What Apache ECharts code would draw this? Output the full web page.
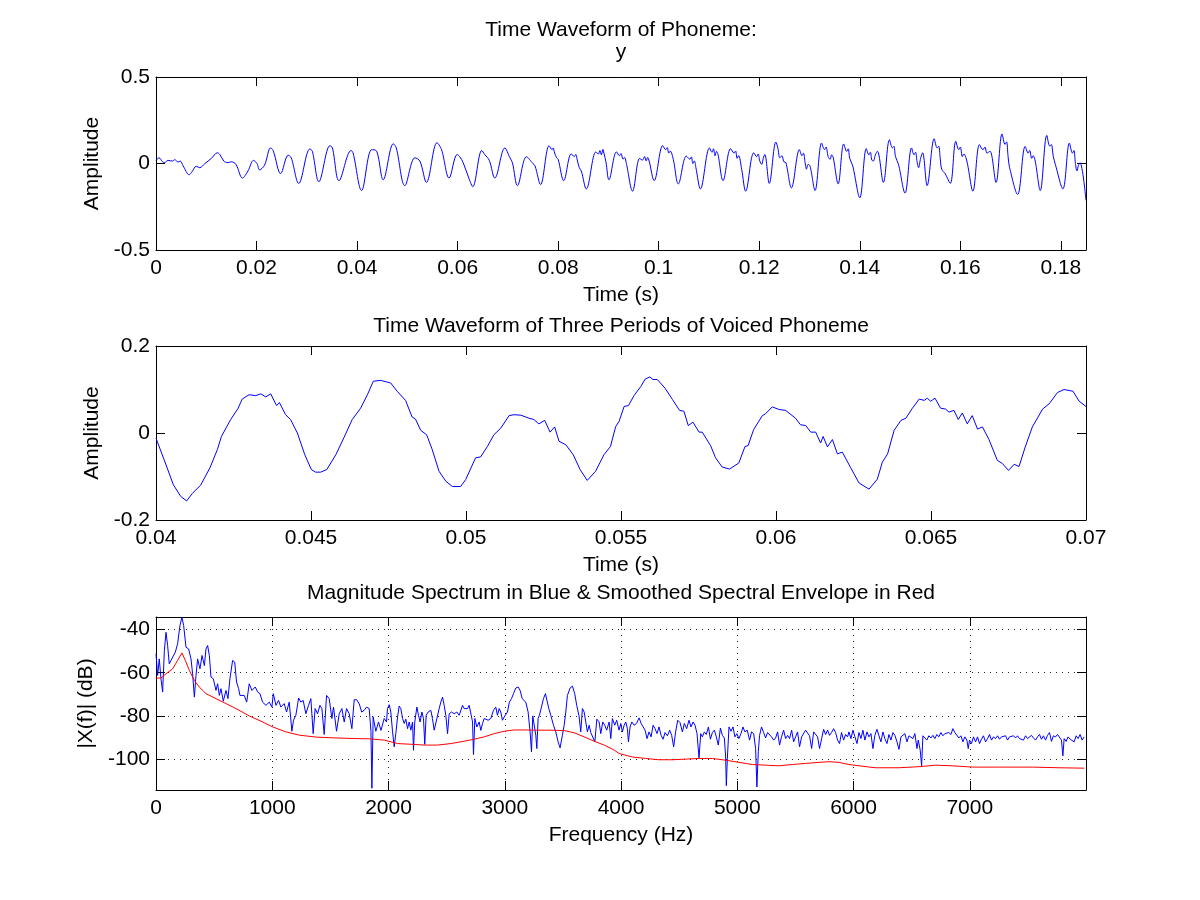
<!DOCTYPE html>
<html>
<head>
<meta charset="utf-8">
<script src="https://cdn.jsdelivr.net/npm/echarts@6/dist/echarts.min.js"></script>
<style>html,body{margin:0;padding:0;background:#fff}#c{width:1200px;height:900px}</style>
</head>
<body>
<div id="c"></div>
<script>
// ---------- Plot 1: full phoneme waveform ----------
const wave1Time = [
0,0.0006,0.0013,0.0017,0.0024,0.0033,0.0037,0.0044,0.0048,0.0054,0.0066,0.0072,0.0080,0.0087,0.0097,0.0110,0.0122,0.0127,0.0135,0.0143,
0.0150,0.0159,0.0172,0.0183,0.0194,0.0201,0.0206,0.0216,0.0228,0.0233,0.0248,0.0263,0.0269,0.0284,0.0306,0.0311,0.0324,0.0346,0.0351,0.0364,
0.0388,0.0392,0.0409,0.0429,0.0439,0.0452,0.0472,0.0478,0.0495,0.0515,0.0525,0.0538,0.0559,0.0568,0.0583,0.0599,0.0604,0.0611,0.0623,0.0630,
0.0648,0.0654,0.0663,0.0674,0.0694,0.0704,0.0709,0.0719,0.0737,0.0750,0.0754,0.0765,
0.0782,0.0788,0.0790,0.0793,0.0797,0.0800,0.0811,0.0826,0.0832,0.0835,0.0838,0.0842,0.0846,0.0856,0.0875,0.0880,0.0883,0.0886,0.0889,0.0891,
0.0895,0.0901,0.0916,0.0922,0.0925,0.0929,0.0932,0.0936,0.0948,0.0962,0.0968,0.0972,0.0975,0.0978,0.0981,0.0991,0.1008,0.1014,0.1017,0.1020,
0.1023,0.1029,0.1039,0.1055,0.1062,0.1065,0.1068,0.1071,0.1074,0.1083,0.1101,0.1106,0.1109,0.1112,0.1115,0.1118,0.1128,0.1143,0.1150,0.1153,
0.1156,0.1159,0.1165,0.1173,0.1189,0.1195,0.1198,0.1201,0.1205,0.1208,0.1211,0.1220,0.1233,0.1237,0.1241,0.1245,0.1249,0.1253,0.1264,0.1280,
0.1285,0.1288,0.1291,0.1294,0.1297,0.1301,0.1311,0.1324,0.1330,0.1333,0.1337,0.1341,0.1344,0.1347,0.1357,0.1368,0.1374,0.1377,0.1380,0.1386,
0.1400,0.1413,0.1418,0.1421,0.1424,0.1427,0.1431,0.1435,0.1447,0.1459,0.1465,0.1468,0.1471,0.1477,0.1490,0.1503,0.1508,0.1511,0.1514,0.1517,
0.1521,0.1525,0.1534,0.1548,0.1554,0.1557,0.1560,0.1563,0.1570,0.1580,0.1591,0.1597,0.1600,0.1604,0.1607,0.1613,0.1625,0.1638,0.1645,0.1649,
0.1653,0.1659,0.1671,0.1683,0.1689,0.1692,0.1695,0.1698,0.1714,0.1729,0.1735,0.1738,0.1742,0.1745,0.1749,0.1759,0.1772,0.1778,0.1781,0.1785,
0.1789,0.1804,0.1817,0.1823,0.1826,0.1829,0.1832,0.1835,0.1838,0.1850
];
const wave1Amp = [
0.018,0.033,0.010,0.005,0.018,0.014,0.022,0.009,0.014,-0.014,-0.065,-0.046,-0.016,-0.024,-0.001,0.029,0.062,0.052,0.014,0.005,
0.010,-0.005,-0.084,-0.043,0.018,-0.001,-0.037,-0.009,0.090,0.075,-0.058,0.048,0.033,-0.115,0.084,0.071,-0.105,0.103,0.090,-0.099,
0.075,0.062,-0.156,0.080,0.071,-0.094,0.114,0.090,-0.128,0.033,0.014,-0.109,0.120,0.080,-0.084,0.052,0.040,0.005,-0.090,-0.134,
0.075,0.052,0.018,-0.084,0.090,0.033,0.005,-0.128,0.039,-0.001,-0.014,-0.122,
0.103,0.080,0.090,0.060,0.033,0.024,-0.099,0.056,0.040,0.052,0.020,-0.024,-0.043,-0.147,0.067,0.055,0.075,0.050,0.082,0.060,
0.010,-0.094,0.067,0.045,0.058,0.025,0.035,-0.005,-0.160,0.029,0.020,0.040,0.015,0.035,0.014,-0.099,0.103,0.080,0.092,0.060,
0.072,0.024,-0.118,0.043,0.025,0.038,0.000,0.015,-0.024,-0.147,0.090,0.065,0.085,0.045,0.070,0.052,-0.099,0.086,0.060,0.072,
0.030,0.045,-0.033,-0.160,0.062,0.040,0.055,0.015,-0.005,0.030,0.052,-0.115,0.124,0.090,0.033,0.045,0.010,0.005,-0.141,0.080,
0.045,0.060,0.010,-0.033,-0.005,-0.014,-0.156,0.118,0.080,0.095,0.040,0.024,0.050,0.037,-0.118,0.113,0.070,0.085,0.030,-0.014,
-0.198,0.086,0.050,0.065,0.020,0.014,0.050,0.071,-0.109,0.137,0.090,0.100,0.040,-0.005,-0.171,0.090,0.050,0.065,0.010,-0.024,
0.030,0.062,-0.128,0.143,0.090,0.100,0.030,-0.033,-0.060,-0.115,0.128,0.080,0.095,0.040,0.055,0.014,-0.160,0.109,0.080,0.095,
0.060,0.071,-0.109,0.171,0.110,0.125,0.040,-0.024,-0.179,0.099,0.060,0.075,0.030,0.045,0.014,-0.156,0.162,0.100,0.110,0.040,
-0.005,-0.147,0.118,0.060,0.075,0.000,-0.043,-0.010,0.005,-0.213
];

// ---------- Plot 2: three periods (zoomed) ----------
const wave2Time = [
0.04000,0.04026,0.04056,0.04080,0.04099,0.04117,0.04144,0.04174,0.04198,0.04211,0.04241,0.04265,0.04278,0.04300,0.04322,0.04338,0.04354,0.04370,0.04389,0.04398,
0.04418,0.04434,0.04456,0.04480,0.04501,0.04515,0.04531,0.04551,0.04580,0.04606,0.04633,0.04660,0.04682,0.04701,0.04725,0.04757,0.04778,0.04805,0.04826,0.04837,
0.04854,0.04873,0.04891,0.04913,0.04935,0.04956,0.04983,0.04999,0.05031,0.05047,0.05069,0.05090,0.05112,0.05139,0.05155,0.05177,0.05203,0.05219,0.05235,0.05254,
0.05271,0.05286,0.05300,0.05322,0.05346,0.05368,0.05391,0.05418,0.05445,0.05466,0.05483,
0.05494,0.05510,0.05524,0.05542,0.05564,0.05578,0.05593,0.05603,0.05617,0.05642,0.05666,0.05689,0.05703,0.05717,0.05732,0.05752,0.05762,0.05789,0.05805,0.05826,
0.05850,0.05880,0.05900,0.05910,0.05928,0.05956,0.05966,0.05988,0.06010,0.06031,0.06063,0.06079,0.06096,0.06112,0.06128,0.06144,0.06152,0.06166,0.06182,0.06198,
0.06214,0.06241,0.06268,0.06300,0.06327,0.06343,0.06360,0.06381,0.06403,0.06419,0.06440,0.06462,0.06478,0.06488,0.06499,0.06513,0.06531,0.06547,0.06558,0.06574,
0.06588,0.06601,0.06617,0.06633,0.06650,0.06666,0.06687,0.06714,0.06730,0.06750,0.06768,0.06784,0.06804,0.06827,0.06860,0.06881,0.06908,0.06929,0.06958,0.06978,
0.07000
];
const wave2Amp = [
-0.012,-0.061,-0.119,-0.146,-0.156,-0.139,-0.120,-0.080,-0.038,-0.008,0.031,0.057,0.078,0.088,0.086,0.090,0.083,0.090,0.063,0.070,
0.042,0.031,0.000,-0.050,-0.084,-0.090,-0.090,-0.084,-0.050,-0.011,0.031,0.057,0.088,0.119,0.121,0.115,0.096,0.075,0.037,0.032,
0.006,-0.004,-0.038,-0.088,-0.111,-0.123,-0.123,-0.107,-0.057,-0.055,-0.031,-0.004,0.011,0.040,0.042,0.041,0.034,0.031,0.021,0.029,
0.002,0.014,-0.019,-0.027,-0.050,-0.084,-0.109,-0.088,-0.050,-0.031,0.015,
0.027,0.061,0.063,0.086,0.107,0.124,0.129,0.123,0.123,0.103,0.077,0.052,0.050,0.017,0.025,0.002,0.002,-0.029,-0.057,-0.078,
-0.083,-0.069,-0.031,-0.029,0.008,0.040,0.044,0.060,0.054,0.052,0.034,0.019,0.017,0.002,0.002,-0.023,-0.008,-0.032,-0.015,-0.048,
-0.044,-0.080,-0.115,-0.129,-0.106,-0.067,-0.048,0.006,0.029,0.034,0.057,0.078,0.075,0.080,0.073,0.080,0.057,0.055,0.048,0.052,
0.031,0.046,0.021,0.040,0.009,0.014,-0.015,-0.063,-0.070,-0.086,-0.072,-0.077,-0.032,0.014,0.055,0.067,0.093,0.100,0.096,0.073,
0.061
];

// ---------- Plot 3: magnitude spectrum (blue) ----------
const specFreq = [
0,14,28,43,57,72,86,100,114,129,143,166,186,206,223,238,258,281,301,315,
330,344,358,378,396,416,430,444,459,473,493,516,530,545,559,579,602,619,636,659,
677,693,711,722,739,759,780,802,825,854,874,894,917,946,974,997,1009,1032,1054,1074,
1103,1123,1146,1169,1183,1203,1227,1246,1266,1289,1312,1332,1352,1369,1390,1410,1427,1447,1467,1490,
1513,1527,1553,1576,1599,1619,1639,1662,1685,1705,1726,1749,1769,1791,1811,1834,1849,1857,1868,1891,
1914,1935,1963,1983,
1991,2006,2020,2035,2049,2063,2078,2092,2106,2121,2135,2149,2164,2178,2192,2207,2215,2226,2244,2258,
2272,2287,2301,2312,2324,2341,2364,2378,2393,2416,2436,2450,2465,2479,2493,2508,2522,2542,2565,2588,
2608,2622,2637,2651,2665,2680,2694,2708,2723,2731,2743,2760,2780,2794,2809,2823,2837,2857,2880,2903,
2923,2937,2952,2966,2980,2995,3009,3023,3040,3058,3075,3095,3115,3132,3150,3167,3181,3201,3218,3230,
3241,3250,3267,3276,3287,3298,3316,3333,3350,3361,3379,3396,3419,3439,3459,3476,3496,3511,3525,3539,
3562,3582,3602,3619,3639,3654,3668,3683,3697,3711,3726,3740,3757,3775,3792,3812,3826,3843,3860,3877,
3898,3912,3926,3946,3963,3983,
3998,4012,4027,4041,4055,4064,4078,4093,4113,4133,4156,4173,4190,4207,4224,4241,4259,4276,4293,4310,
4327,4345,4362,4379,4399,4419,4436,4453,4470,4488,4508,4528,4545,4565,4585,4602,4620,4637,4654,4671,
4686,4700,4717,4734,4752,4769,4786,4803,4820,4837,4855,4872,4889,4900,4906,4915,4929,4946,4963,4980,
4997,5014,5032,5049,5066,5086,5106,5123,5141,5158,5169,5181,5192,5209,5227,5244,5261,5278,5295,5313,
5330,5347,5364,5381,5399,5416,5433,5450,5468,5485,5502,5519,5536,5554,5571,5588,5605,5622,5640,5657,
5674,5691,5708,5726,5743,5760,5777,5794,5811,5829,5846,5863,5880,5897,5915,5932,5949,
5961,5978,5995,6012,6030,6047,6064,6081,6098,6116,6133,6150,6167,6184,6202,6219,6236,6253,6270,6288,
6305,6322,6339,6356,6373,6391,6408,6425,6442,6460,6477,6494,6511,6528,6546,6557,6574,6586,6597,6614,
6631,6648,6666,6683,6700,6717,6734,6752,6769,6786,6803,6820,6838,6855,6872,6889,6906,6924,6941,6958,
6975,6987,6998,7015,7032,7050,7067,7084,7101,7118,7136,7153,7170,7187,7204,7222,7239,7256,7273,7290,
7308,7325,7342,7359,7376,7394,7411,7428,7445,7462,7480,7497,7514,7531,7548,7566,7583,7600,7617,7634,
7652,7669,7686,7703,7720,7738,7755,7772,7789,7801,7812,7829,7846,7864,7881,7898,7915,7932,7949,7967,
7984
];
const specDb = [
-51.2,-61.2,-53.6,-62.8,-68.9,-49.7,-41.3,-47.4,-55.9,-54.3,-53.6,-50.5,-46.6,-38.2,-34.3,-38.2,-48.2,-49.0,-53.6,-60.5,
-71.3,-61.3,-53.6,-58.2,-52.0,-56.7,-49.0,-47.4,-52.0,-62.0,-62.8,-68.2,-65.1,-70.5,-67.4,-73.2,-68.2,-72.0,-62.8,-54.3,
-55.1,-64.3,-67.4,-70.5,-69.7,-70.5,-73.6,-65.1,-68.2,-66.6,-68.9,-69.7,-73.6,-75.1,-73.6,-75.9,-69.7,-75.1,-72.8,-75.9,
-74.3,-78.2,-73.6,-87.1,-82.0,-79.7,-71.7,-73.6,-72.8,-79.0,-75.1,-72.0,-88.2,-76.6,-79.0,-75.1,-76.6,-88.6,-70.5,-72.0,
-81.2,-75.9,-87.1,-79.0,-76.6,-82.8,-76.6,-79.0,-85.9,-72.5,-72.5,-74.5,-78.2,-77.4,-75.9,-76.6,-87.1,-113.5,-80.4,-87.1,
-82.8,-86.7,-81.2,-82.8,
-76.6,-74.8,-78.2,-87.4,-94.3,-88.2,-80.5,-75.4,-76.6,-81.2,-83.5,-81.5,-85.9,-82.8,-86.6,-82.8,-95.9,-82.8,-75.9,-79.7,
-82.8,-78.2,-81.2,-93.2,-79.7,-78.2,-77.4,-81.2,-86.6,-81.2,-76.6,-73.6,-71.3,-75.1,-79.7,-88.2,-79.0,-78.2,-79.0,-78.2,
-79.7,-79.0,-75.1,-76.6,-75.9,-76.6,-75.1,-74.3,-82.8,-97.9,-81.2,-85.1,-82.8,-86.7,-83.5,-81.2,-80.5,-82.0,-81.2,-77.4,
-75.9,-79.7,-76.6,-78.2,-82.0,-80.5,-81.2,-78.2,-73.6,-72.0,-69.7,-67.1,-66.6,-68.2,-72.0,-71.3,-73.6,-78.2,-87.4,-96.6,
-80.0,-80.5,-88.9,-95.1,-81.2,-79.7,-75.9,-72.0,-69.7,-70.5,-76.6,-79.7,-84.3,-87.4,-92.0,-94.8,-88.9,-84.3,-78.2,-70.5,
-67.1,-66.2,-69.7,-75.1,-80.0,-87.4,-76.6,-78.2,-82.8,-87.4,-84.3,-87.7,-87.4,-92.0,-81.5,-82.8,-88.2,-82.8,-84.3,-86.6,
-82.8,-90.5,-81.2,-84.3,-82.0,-86.6,
-83.5,-87.4,-84.3,-82.8,-85.9,-92.0,-85.1,-82.8,-84.3,-83.5,-80.9,-83.5,-82.8,-86.6,-90.5,-87.4,-89.7,-84.3,-85.9,-88.2,
-85.1,-89.0,-90.8,-87.7,-89.2,-86.6,-89.0,-94.3,-87.4,-82.0,-83.1,-87.4,-83.5,-85.9,-82.0,-85.1,-82.8,-84.3,-88.2,-99.4,
-88.2,-89.7,-87.4,-88.6,-85.1,-90.8,-87.7,-86.6,-89.7,-93.5,-85.6,-89.0,-90.2,-99.0,-112.3,-99.7,-85.1,-87.1,-85.1,-89.7,
-88.2,-90.5,-88.2,-85.1,-87.4,-86.6,-91.2,-87.4,-88.2,-95.1,-112.9,-96.6,-89.0,-85.1,-87.7,-90.2,-87.7,-87.7,-89.7,-91.2,
-90.2,-87.4,-93.5,-89.7,-86.6,-90.5,-89.0,-90.5,-86.6,-92.0,-89.7,-87.4,-94.3,-89.7,-90.5,-86.6,-85.9,-89.2,-95.1,-87.4,
-87.1,-89.7,-95.1,-90.5,-86.2,-88.6,-86.6,-89.0,-87.7,-85.9,-87.7,-91.2,-92.8,-87.7,-91.2,-88.6,-89.7,
-87.4,-90.5,-86.6,-89.7,-92.8,-87.7,-90.5,-86.6,-91.2,-87.4,-89.7,-88.2,-95.1,-89.0,-86.2,-89.2,-92.0,-87.4,-90.5,-92.8,
-88.6,-91.2,-87.7,-89.0,-91.8,-95.5,-89.7,-90.5,-88.2,-92.0,-89.2,-88.6,-90.5,-88.2,-95.1,-91.2,-95.9,-103.1,-89.2,-89.7,
-91.2,-89.2,-90.2,-89.0,-90.5,-88.6,-89.7,-87.7,-89.2,-88.2,-89.0,-87.7,-88.6,-85.9,-87.7,-88.2,-90.2,-89.2,-92.0,-89.7,
-91.2,-95.1,-91.2,-92.8,-89.7,-92.0,-89.7,-92.8,-90.8,-89.2,-92.0,-90.5,-88.6,-91.2,-89.7,-90.5,-89.2,-90.8,-89.7,-90.5,
-89.2,-91.2,-89.7,-90.5,-89.2,-90.2,-89.2,-90.5,-89.7,-91.2,-89.2,-90.5,-89.7,-89.0,-90.2,-91.2,-89.7,-88.6,-90.8,-89.2,
-91.2,-89.0,-87.7,-91.8,-89.2,-89.7,-88.6,-89.2,-91.2,-98.5,-90.5,-91.8,-89.7,-90.8,-90.2,-92.0,-89.2,-90.5,-88.6,-91.2,
-89.7
];

// ---------- Plot 3: smoothed spectral envelope (red) ----------
const envFreq = [
0,43,86,143,186,223,252,287,330,372,430,516,602,688,802,917,1003,1118,1232,1375,
1548,1720,1834,1963,2078,2221,2307,2422,2536,2651,2737,2823,2909,2995,3081,3167,3282,3396,3511,3597,
3683,3769,3855,3941,3983,4098,4212,4327,4442,4556,4671,4786,4900,5014,5129,5244,5359,5473,5588,5703,
5789,5875,5961,6047,6190,6391,6563,6708,6852,7024,7253,7540,7769,7984
];
const envDb = [
-62.5,-62.5,-60.5,-58.2,-54.3,-50.8,-54.3,-58.9,-63.6,-66.6,-69.7,-72.0,-74.3,-76.6,-80.0,-82.8,-85.1,-87.4,-88.9,-89.8,
-90.2,-90.5,-90.6,-91.2,-92.8,-93.2,-93.5,-93.5,-92.8,-91.7,-90.8,-89.7,-88.2,-87.1,-86.5,-86.5,-86.6,-86.6,-86.8,-87.8,
-89.7,-91.7,-93.5,-95.8,-97.4,-99.0,-99.7,-100.3,-100.3,-100.0,-99.7,-99.7,-100.5,-101.5,-102.5,-102.8,-103.1,-102.5,-102.0,-101.5,
-101.2,-101.5,-102.5,-103.1,-104.0,-104.0,-103.5,-102.8,-103.1,-103.7,-103.7,-103.7,-104.0,-104.2
];

// ---------- Axis ticks / ranges ----------
const wave1XTicks = { min: 0, max: 0.185, interval: 0.02 };
const wave1YTicks = { min: -0.5, max: 0.5, interval: 0.5 };
const wave2XTicks = { min: 0.04, max: 0.07, interval: 0.005 };
const wave2YTicks = { min: -0.2, max: 0.2, interval: 0.2 };
const specXTicks = { min: 0, max: 8000, interval: 1000 };
const specYRange = { min: -114.3, max: -34.2 };

const titles = [
  'Time Waveform of Phoneme:',
  'y',
  'Time Waveform of Three Periods of Voiced Phoneme',
  'Magnitude Spectrum in Blue & Smoothed Spectral Envelope in Red'
];

const FONT = '"Liberation Sans", Arial, Helvetica, sans-serif';
const FS = 21;
const pairs = (xs, ys) => xs.map((x, i) => [x, ys[i]]);
const plainNum = v => String(Math.round(v * 1e6) / 1e6);

const grids = [
  { left: 156, top: 77, width: 930, height: 173 },
  { left: 156, top: 346, width: 930, height: 174 },
  { left: 156, top: 617, width: 930, height: 173 }
];

const tickStyle = { show: true, inside: true, length: 9, lineStyle: { color: '#000', width: 1 } };
const lineStyleAxis = { show: true, onZero: false, lineStyle: { color: '#000', width: 1 } };
const labelStyle = { color: '#000', fontSize: FS, fontFamily: FONT, formatter: plainNum };
const dotted = { show: true, lineStyle: { color: '#222', width: 1, type: [1, 5] } };

function xAxes(gridIndex, ticks, name, showMax, split) {
  return [
    Object.assign({
      type: 'value', gridIndex, position: 'bottom',
      axisLine: lineStyleAxis, axisTick: tickStyle,
      axisLabel: Object.assign({ margin: 8, showMaxLabel: showMax, showMinLabel: true, hideOverlap: false }, labelStyle),
      splitLine: split ? dotted : { show: false },
      name, nameLocation: 'middle', nameGap: 35,
      nameTextStyle: { color: '#000', fontSize: FS, fontFamily: FONT }
    }, ticks),
    Object.assign({
      type: 'value', gridIndex, position: 'top',
      axisLine: lineStyleAxis, axisTick: tickStyle,
      axisLabel: { show: false }, splitLine: { show: false }
    }, ticks)
  ];
}
function yAxes(gridIndex, ticks, name, showEnds, split) {
  return [
    Object.assign({
      type: 'value', gridIndex, position: 'left',
      axisLine: lineStyleAxis, axisTick: tickStyle,
      axisLabel: Object.assign({ margin: 6, showMaxLabel: showEnds, showMinLabel: showEnds, hideOverlap: false }, labelStyle),
      splitLine: split ? dotted : { show: false },
      name, nameLocation: 'middle', nameGap: 52, nameRotate: 90,
      nameTextStyle: { color: '#000', fontSize: FS, fontFamily: FONT }
    }, ticks),
    Object.assign({
      type: 'value', gridIndex, position: 'right',
      axisLine: lineStyleAxis, axisTick: tickStyle,
      axisLabel: { show: false }, splitLine: { show: false }
    }, ticks)
  ];
}

const chart = echarts.init(document.getElementById('c'), null, { renderer: 'canvas' });
const lineSeries = (xi, yi, data, color, smooth) => ({
  type: 'line', xAxisIndex: xi, yAxisIndex: yi, data,
  showSymbol: false, symbol: 'none', smooth: smooth || false,
  lineStyle: { color, width: 1 }, itemStyle: { color },
  animation: false, silent: true, clip: true
});

const titleText = (text, y) => ({
  type: 'text', x: 621, y,
  style: { text, fill: '#000', font: FS + 'px ' + FONT, textAlign: 'center', textVerticalAlign: 'middle', align: 'center', verticalAlign: 'middle' }
});

chart.setOption({
  backgroundColor: '#fff',
  animation: false,
  grid: grids,
  xAxis: [
    ...xAxes(0, wave1XTicks, 'Time (s)', false, false),
    ...xAxes(1, wave2XTicks, 'Time (s)', true, false),
    ...xAxes(2, specXTicks, 'Frequency (Hz)', false, true)
  ],
  yAxis: [
    ...yAxes(0, wave1YTicks, 'Amplitude', true, false),
    ...yAxes(1, wave2YTicks, 'Amplitude', true, false),
    ...yAxes(2, specYRange, '|X(f)| (dB)', false, true)
  ],
  graphic: [
    titleText(titles[0], 30),
    titleText(titles[1], 52),
    titleText(titles[2], 326),
    titleText(titles[3], 593)
  ],
  series: [
    lineSeries(0, 0, pairs(wave1Time, wave1Amp), '#0000ff', 0.35),
    lineSeries(2, 2, pairs(wave2Time, wave2Amp), '#0000ff'),
    lineSeries(4, 4, pairs(specFreq, specDb), '#0000ff'),
    lineSeries(4, 4, pairs(envFreq, envDb), '#ff0000')
  ]
});
</script>
</body>
</html>
